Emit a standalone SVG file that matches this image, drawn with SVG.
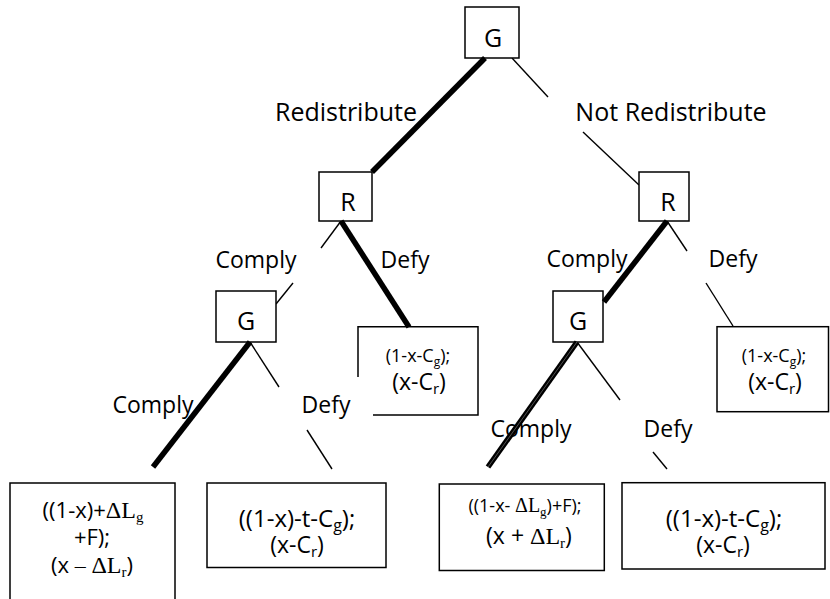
<svg xmlns="http://www.w3.org/2000/svg" width="830" height="599" viewBox="0 0 830 599">
<style>
.box{fill:#fff;stroke:#000;stroke-width:1.5}
.t{font-family:'Open Sans','Liberation Sans',sans-serif;fill:#000;text-anchor:middle}
.s{font-family:'Liberation Serif',serif}
.thin{stroke:#000;stroke-width:1.4;fill:none}
.thick{stroke:#000;stroke-width:5.5;fill:none}
.lbl{font-size:23px}
.big{font-size:25px}
</style>
<rect x="0" y="0" width="830" height="599" fill="#fff"/>

<g id="connectors">
  <g id="thin-lines">
    <line class="thin" x1="512" y1="58" x2="548" y2="97"/>
    <line class="thin" x1="583" y1="132" x2="639" y2="185"/>
    <line class="thin" x1="341" y1="221" x2="321" y2="248"/>
    <line class="thin" x1="293" y1="283" x2="276" y2="304"/>
    <line class="thin" x1="667" y1="221" x2="687" y2="251"/>
    <line class="thin" x1="706" y1="283" x2="733" y2="326"/>
    <line class="thin" x1="250" y1="342" x2="279" y2="387"/>
    <line class="thin" x1="307" y1="430" x2="332" y2="469"/>
    <line class="thin" x1="577" y1="342" x2="620" y2="400"/>
    <line class="thin" x1="653" y1="452" x2="667" y2="469"/>
  </g>
</g>

<g id="labels">
  <text class="t big" x="346" y="121">Redistribute</text>
  <text class="t big" x="671" y="121">Not Redistribute</text>
  <text class="t lbl" x="256" y="268">Comply</text>
  <text class="t lbl" x="405" y="268">Defy</text>
  <text class="t lbl" x="587" y="267">Comply</text>
  <text class="t lbl" x="733" y="267">Defy</text>
  <text class="t lbl" x="153" y="413">Comply</text>
  <text class="t lbl" x="326" y="413">Defy</text>
  <text class="t lbl" x="531" y="437">Comply</text>
  <text class="t lbl" x="668" y="437">Defy</text>
</g>

<g id="node-G-root">
  <rect class="box" x="465" y="7" width="54" height="51"/>
  <text class="t big" x="493" y="47">G</text>
</g>
<g id="node-R-left">
  <rect class="box" x="319" y="172" width="53" height="49"/>
  <text class="t big" x="348" y="211">R</text>
</g>
<g id="node-R-right">
  <rect class="box" x="639" y="172" width="50" height="49"/>
  <text class="t big" x="668" y="211">R</text>
</g>
<g id="node-G-left">
  <rect class="box" x="216" y="291" width="60" height="51"/>
  <text class="t big" x="246" y="330">G</text>
</g>
<g id="node-G-right">
  <rect class="box" x="553" y="291" width="50" height="51"/>
  <text class="t big" x="578" y="330">G</text>
</g>

<g id="leaf-R-left-defy">
  <path d="M358,377 V326.7 H478 V415 H373" fill="#fff" stroke="#000" stroke-width="1.5"/>
  <text class="t" x="418" y="362" font-size="18">(1-x-C<tspan font-size="12" dy="3.5">g</tspan><tspan dy="-3.5">);</tspan></text>
  <text class="t" x="419" y="390" font-size="23">(x-C<tspan font-size="15" dy="4">r</tspan><tspan dy="-4">)</tspan></text>
</g>
<g id="leaf-R-right-defy">
  <rect class="box" x="717" y="326.7" width="111.5" height="85"/>
  <text class="t" x="774" y="362" font-size="18">(1-x-C<tspan font-size="12" dy="3.5">g</tspan><tspan dy="-3.5">);</tspan></text>
  <text class="t" x="775" y="390" font-size="23">(x-C<tspan font-size="15" dy="4">r</tspan><tspan dy="-4">)</tspan></text>
</g>
<g id="leaf-1">
  <rect class="box" x="10" y="483" width="165" height="125"/>
  <text class="t" x="93" y="518" font-size="22">((1-x)+<tspan class="s" font-size="24">ΔL</tspan><tspan class="s" font-size="15" dy="4">g</tspan></text>
  <text class="t" x="92" y="545" font-size="22">+F);</text>
  <text class="t" x="92" y="573" font-size="22">(x <tspan class="s">–</tspan> <tspan class="s" font-size="24">ΔL</tspan><tspan class="s" font-size="15" dy="4">r</tspan><tspan dy="-4">)</tspan></text>
</g>
<g id="leaf-2">
  <rect class="box" x="207" y="483" width="179" height="84.5"/>
  <text class="t" x="297" y="527" font-size="24">((1-x)-t-C<tspan font-size="16" dy="4">g</tspan><tspan dy="-4">);</tspan></text>
  <text class="t" x="297" y="553" font-size="23">(x-C<tspan font-size="15" dy="4">r</tspan><tspan dy="-4">)</tspan></text>
</g>
<g id="leaf-3">
  <rect class="box" x="439.3" y="484" width="165" height="86.5"/>
  <text class="t" x="525" y="512" font-size="18">((1-x- <tspan class="s" font-size="20">ΔL</tspan><tspan class="s" font-size="13" dy="3.5">g</tspan><tspan dy="-3.5">)+F);</tspan></text>
  <text class="t" x="529" y="544" font-size="23">(x + <tspan class="s" font-size="24">ΔL</tspan><tspan class="s" font-size="15" dy="4">r</tspan><tspan dy="-4">)</tspan></text>
</g>
<g id="leaf-4">
  <rect class="box" x="622" y="482.7" width="203" height="86.3"/>
  <text class="t" x="724" y="527" font-size="24">((1-x)-t-C<tspan font-size="16" dy="4">g</tspan><tspan dy="-4">);</tspan></text>
  <text class="t" x="723" y="553" font-size="23">(x-C<tspan font-size="15" dy="4">r</tspan><tspan dy="-4">)</tspan></text>
</g>

<g id="thick-connectors">
  <line class="thick" x1="485" y1="58" x2="372" y2="172"/>
  <line class="thick" x1="341" y1="221" x2="409" y2="327"/>
  <line class="thick" x1="667" y1="221" x2="604" y2="302"/>
  <line class="thick" x1="250" y1="342" x2="153" y2="467"/>
  <line class="thick" x1="577" y1="342" x2="488" y2="467"/>
  <line x1="577" y1="342" x2="488" y2="467" stroke="#888" stroke-width="0.6"/>
</g>
</svg>
